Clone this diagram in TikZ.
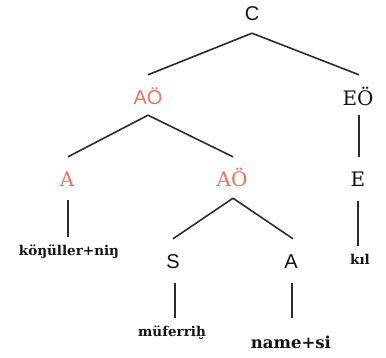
\documentclass[tikz,border=0pt]{standalone}
\usepackage{fontspec}
\setmainfont{DejaVu Serif}
\setsansfont{Liberation Sans}
\begin{document}
\definecolor{salmon}{RGB}{242,112,94}
\definecolor{ink}{RGB}{20,20,20}
\begin{tikzpicture}[x=1pt,y=-1pt,
  cat/.style={inner sep=0pt,text height=14pt,text depth=0pt,font=\fontsize{20}{20}\selectfont,text=ink},
  catsans/.style={cat,font=\fontsize{20}{20}\sffamily},
  hot/.style={text=salmon},
  word/.style={inner sep=0pt,text height=11pt,text depth=3pt,font=\fontsize{13.5}{13.5}\bfseries,text=ink},
  edge/.style={draw=ink!90,line width=1.6pt}]
\useasboundingbox (0,0) rectangle (386,358);

% category labels
\node[catsans]     (C)   at (252,14)  {C};
\node[catsans,hot] (AO1) at (148,98)  {AÖ};
\node[cat]         (EO)  at (358,99)  {EÖ};
\node[cat,hot]     (A1)  at (67,180)  {A};
\node[cat,hot]     (AO2) at (232,180) {AÖ};
\node[cat]         (E)   at (358,180) {E};
\node[catsans]     (S)   at (173,262) {S};
\node[catsans]     (A2)  at (291,262) {A};

% leaves
\node[word] (w1) at (69,252)  {köŋüller+niŋ};
\node[word] (w2) at (172,333) {müferriḫ};
\node[word,font=\fontsize{16.5}{16.5}\bfseries] (w3) at (291,345) {name+si};
\node[word] (w4) at (360,261) {kıl};

% branches: each pair meets at one point under the parent
\draw[edge] ([yshift=-12pt]C.south)   -- ([yshift=16pt]AO1.north);
\draw[edge] ([yshift=-12pt]C.south)   -- ([xshift=1pt,yshift=17pt]EO.north);
\draw[edge] ([yshift=-10pt]AO1.south) -- ([xshift=1pt,yshift=16pt]A1.north);
\draw[edge] ([yshift=-10pt]AO1.south) -- ([xshift=1pt,yshift=16pt]AO2.north);
\draw[edge] ([xshift=1pt,yshift=-9pt]EO.south) -- ([xshift=1pt,yshift=16pt]E.north);
\draw[edge] ([xshift=1pt,yshift=-11pt]AO2.south) -- ([yshift=16pt]S.north);
\draw[edge] ([xshift=1pt,yshift=-11pt]AO2.south) -- ([xshift=2pt,yshift=16pt]A2.north);

% unary branches to the leaves
\draw[edge,shorten >=8pt]  ([xshift=1pt,yshift=-13pt]A1.south) -- ([xshift=1pt]A1.south |- w1.north);
\draw[edge,shorten >=8pt]  ([xshift=2pt,yshift=-14pt]S.south)  -- ([xshift=2pt]S.south |- w2.north);
\draw[edge,shorten >=20pt] ([xshift=1pt,yshift=-14pt]A2.south) -- ([xshift=1pt]A2.south |- w3.north);
\draw[edge,shorten >=8pt]  ([yshift=-14pt]E.south) -- (E.south |- w4.north);
\end{tikzpicture}
\end{document}
